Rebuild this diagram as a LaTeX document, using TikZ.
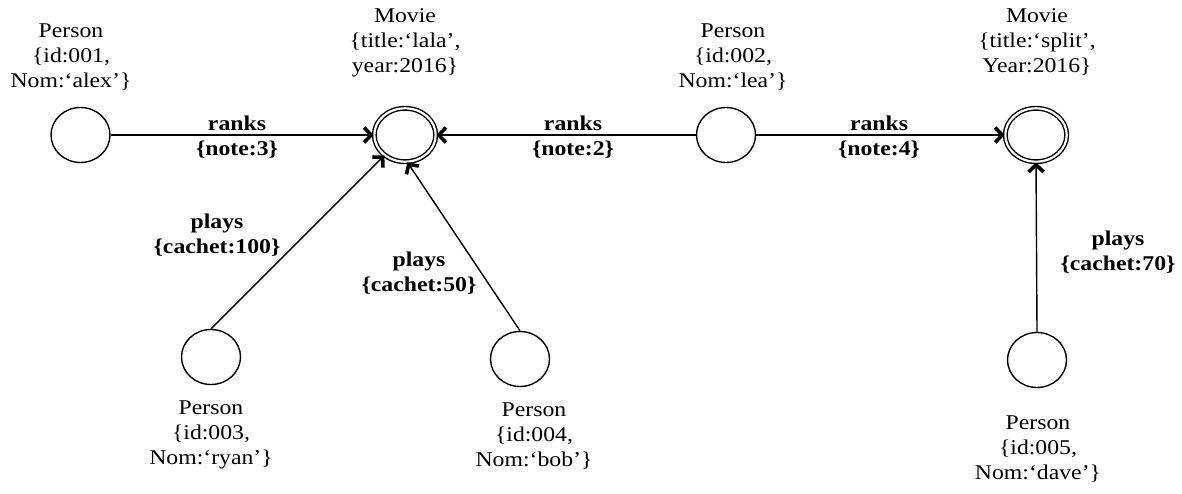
\documentclass[tikz,border=0pt]{standalone}
\usepackage{fontspec}
\setmainfont{Liberation Serif}[FakeStretch=1.13]
\usetikzlibrary{arrows.meta,shapes.geometric}
\begin{document}
\begin{tikzpicture}[x=1pt,y=-1pt,
  person/.style={draw, ellipse, line width=1.4pt, minimum width=59pt, minimum height=55pt, inner sep=0pt},
  movie/.style={draw, ellipse, line width=1.4pt, double, double distance=2.2pt, minimum width=61.4pt, minimum height=53.4pt, inner sep=0pt},
  lbl/.style={anchor=north, align=center, inner sep=0pt, font=\fontsize{21}{25}\selectfont},
  elbl/.style={anchor=north, align=center, inner sep=0pt, font=\fontsize{21}{25}\selectfont\bfseries},
  rel/.style={line width=1.4pt, -{Straight Barb[length=7pt,width=15pt,line width=3.6pt]}}
]
\useasboundingbox (0,0) rectangle (1182,494);

% nodes
\node[person] (P1) at (80.5,135) {};
\node[movie]  (M1) at (405,135) {};
\node[person] (P2) at (726,135) {};
\node[movie]  (M2) at (1036,135) {};
\node[person] (P3) at (211,357) {};
\node[person] (P4) at (520,359) {};
\node[person] (P5) at (1037,360) {};

% node labels
\node[lbl] (L1) at (71,24) {Person\\\{id:001,\\Nom:‘alex’\}};
\node[lbl] (LM1) at (405,8) {Movie\\\{title:‘lala’,\\year:2016\}};
\node[lbl] (L2) at (733,24) {Person\\\{id:002,\\Nom:‘lea’\}};
\node[lbl] (LM2) at (1037,8) {Movie\\\{title:‘split’,\\Year:2016\}};
\node[lbl] (L3) at (211,401) {Person\\\{id:003,\\Nom:‘ryan’\}};
\node[lbl] (L4) at (534,403) {Person\\\{id:004,\\Nom:‘bob’\}};
\node[lbl] (L5) at (1038,416) {Person\\\{id:005,\\Nom:‘dave’\}};

% edges
\draw[rel] (P1) -- (M1);
\draw[rel] (P2) -- (M1);
\draw[rel] (P2) -- (M2);
\draw[rel] (P3.north) -- (M1);
\draw[rel] (P4.north) -- (M1.-85);
\draw[rel] (P5.north) -- (M2.south);

% edge labels
\node[elbl] (E1) at (237,116) {ranks\\\{note:3\}};
\node[elbl] (E2) at (573,116) {ranks\\\{note:2\}};
\node[elbl] (E3) at (879,116) {ranks\\\{note:4\}};
\node[elbl] (E4) at (217,214) {plays\\\{cachet:100\}};
\node[elbl] (E5) at (419,252) {plays\\\{cachet:50\}};
\node[elbl] (E6) at (1118,231) {plays\\\{cachet:70\}};
\end{tikzpicture}
\end{document}
